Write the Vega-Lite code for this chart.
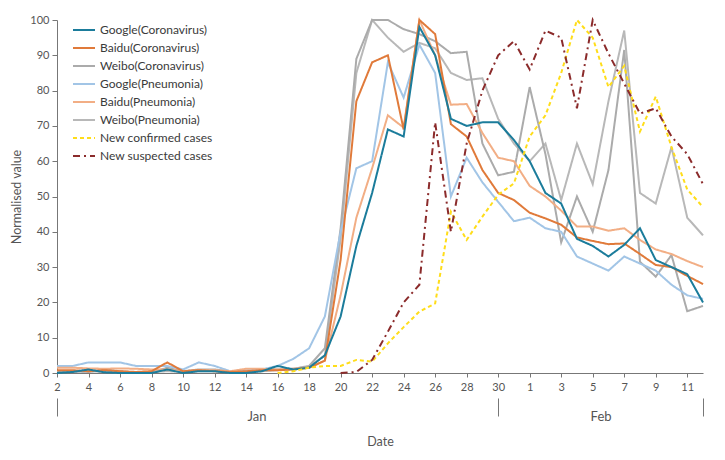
{
  "$schema": "https://vega.github.io/schema/vega-lite/v6.json",
  "width": 646,
  "height": 353,
  "autosize": {"type": "none"},
  "padding": {"left": 57, "top": 20, "right": 22, "bottom": 87},
  "background": "white",
  "config": {"font": "Lato", "view": {"stroke": null}},
  "data": {"values": [
    {"date":"2020-01-02","Google(Coronavirus)":0,"Baidu(Coronavirus)":0.8,"Weibo(Coronavirus)":0.5,"Google(Pneumonia)":2,"Baidu(Pneumonia)":1.5,"Weibo(Pneumonia)":0.3},
    {"date":"2020-01-03","Google(Coronavirus)":0.3,"Baidu(Coronavirus)":0.8,"Weibo(Coronavirus)":0.5,"Google(Pneumonia)":2,"Baidu(Pneumonia)":1.5,"Weibo(Pneumonia)":0.3},
    {"date":"2020-01-04","Google(Coronavirus)":1,"Baidu(Coronavirus)":0.5,"Weibo(Coronavirus)":0.3,"Google(Pneumonia)":3,"Baidu(Pneumonia)":1.3,"Weibo(Pneumonia)":0.5},
    {"date":"2020-01-05","Google(Coronavirus)":0.2,"Baidu(Coronavirus)":0.8,"Weibo(Coronavirus)":1,"Google(Pneumonia)":3,"Baidu(Pneumonia)":1.2,"Weibo(Pneumonia)":0.3},
    {"date":"2020-01-06","Google(Coronavirus)":0,"Baidu(Coronavirus)":0.5,"Weibo(Coronavirus)":0.5,"Google(Pneumonia)":3,"Baidu(Pneumonia)":1.3,"Weibo(Pneumonia)":0.2},
    {"date":"2020-01-07","Google(Coronavirus)":0,"Baidu(Coronavirus)":0.3,"Weibo(Coronavirus)":0.2,"Google(Pneumonia)":2,"Baidu(Pneumonia)":1.2,"Weibo(Pneumonia)":0.2},
    {"date":"2020-01-08","Google(Coronavirus)":0,"Baidu(Coronavirus)":0.5,"Weibo(Coronavirus)":0.2,"Google(Pneumonia)":2,"Baidu(Pneumonia)":1,"Weibo(Pneumonia)":0.3},
    {"date":"2020-01-09","Google(Coronavirus)":1,"Baidu(Coronavirus)":3,"Weibo(Coronavirus)":1.5,"Google(Pneumonia)":2,"Baidu(Pneumonia)":1,"Weibo(Pneumonia)":0.5},
    {"date":"2020-01-10","Google(Coronavirus)":0,"Baidu(Coronavirus)":0.5,"Weibo(Coronavirus)":0.5,"Google(Pneumonia)":1,"Baidu(Pneumonia)":0.5,"Weibo(Pneumonia)":0.3},
    {"date":"2020-01-11","Google(Coronavirus)":0.5,"Baidu(Coronavirus)":0.8,"Weibo(Coronavirus)":1,"Google(Pneumonia)":3,"Baidu(Pneumonia)":0.8,"Weibo(Pneumonia)":0.5},
    {"date":"2020-01-12","Google(Coronavirus)":0.5,"Baidu(Coronavirus)":0.5,"Weibo(Coronavirus)":1,"Google(Pneumonia)":2,"Baidu(Pneumonia)":0.8,"Weibo(Pneumonia)":0.5},
    {"date":"2020-01-13","Google(Coronavirus)":0,"Baidu(Coronavirus)":0.3,"Weibo(Coronavirus)":0.5,"Google(Pneumonia)":0.5,"Baidu(Pneumonia)":0.5,"Weibo(Pneumonia)":0.2},
    {"date":"2020-01-14","Google(Coronavirus)":0,"Baidu(Coronavirus)":0.5,"Weibo(Coronavirus)":0.5,"Google(Pneumonia)":0.8,"Baidu(Pneumonia)":1.2,"Weibo(Pneumonia)":0.3},
    {"date":"2020-01-15","Google(Coronavirus)":0.5,"Baidu(Coronavirus)":0.8,"Weibo(Coronavirus)":0.8,"Google(Pneumonia)":1,"Baidu(Pneumonia)":1.2,"Weibo(Pneumonia)":0.5},
    {"date":"2020-01-16","Google(Coronavirus)":2,"Baidu(Coronavirus)":0.8,"Weibo(Coronavirus)":1,"Google(Pneumonia)":2,"Baidu(Pneumonia)":1,"Weibo(Pneumonia)":0.8,"New confirmed cases":0},
    {"date":"2020-01-17","Google(Coronavirus)":1,"Baidu(Coronavirus)":1,"Weibo(Coronavirus)":1.2,"Google(Pneumonia)":4,"Baidu(Pneumonia)":1.2,"Weibo(Pneumonia)":1,"New confirmed cases":0.5},
    {"date":"2020-01-18","Google(Coronavirus)":1.5,"Baidu(Coronavirus)":1.5,"Weibo(Coronavirus)":2,"Google(Pneumonia)":7,"Baidu(Pneumonia)":1.5,"Weibo(Pneumonia)":1.8,"New confirmed cases":1.5},
    {"date":"2020-01-19","Google(Coronavirus)":5,"Baidu(Coronavirus)":3.5,"Weibo(Coronavirus)":7,"Google(Pneumonia)":16,"Baidu(Pneumonia)":3.5,"Weibo(Pneumonia)":5,"New confirmed cases":2},
    {"date":"2020-01-20","Google(Coronavirus)":16,"Baidu(Coronavirus)":32,"Weibo(Coronavirus)":41,"Google(Pneumonia)":40,"Baidu(Pneumonia)":22,"Weibo(Pneumonia)":38,"New confirmed cases":2,"New suspected cases":0},
    {"date":"2020-01-21","Google(Coronavirus)":36,"Baidu(Coronavirus)":77,"Weibo(Coronavirus)":89,"Google(Pneumonia)":58,"Baidu(Pneumonia)":44,"Weibo(Pneumonia)":85,"New confirmed cases":3.7,"New suspected cases":0.3},
    {"date":"2020-01-22","Google(Coronavirus)":51,"Baidu(Coronavirus)":88,"Weibo(Coronavirus)":100,"Google(Pneumonia)":60,"Baidu(Pneumonia)":58,"Weibo(Pneumonia)":100,"New confirmed cases":3.2,"New suspected cases":3.7},
    {"date":"2020-01-23","Google(Coronavirus)":69,"Baidu(Coronavirus)":90,"Weibo(Coronavirus)":100,"Google(Pneumonia)":88,"Baidu(Pneumonia)":73,"Weibo(Pneumonia)":95,"New confirmed cases":8.4,"New suspected cases":11.7},
    {"date":"2020-01-24","Google(Coronavirus)":67,"Baidu(Coronavirus)":69,"Weibo(Coronavirus)":97.4,"Google(Pneumonia)":78,"Baidu(Pneumonia)":69.5,"Weibo(Pneumonia)":91,"New confirmed cases":13,"New suspected cases":20},
    {"date":"2020-01-25","Google(Coronavirus)":98,"Baidu(Coronavirus)":100,"Weibo(Coronavirus)":96,"Google(Pneumonia)":93,"Baidu(Pneumonia)":100,"Weibo(Pneumonia)":93.5,"New confirmed cases":17.4,"New suspected cases":25},
    {"date":"2020-01-26","Google(Coronavirus)":90,"Baidu(Coronavirus)":96,"Weibo(Coronavirus)":94,"Google(Pneumonia)":85,"Baidu(Pneumonia)":90,"Weibo(Pneumonia)":92,"New confirmed cases":19.7,"New suspected cases":71},
    {"date":"2020-01-27","Google(Coronavirus)":72,"Baidu(Coronavirus)":70.5,"Weibo(Coronavirus)":90.6,"Google(Pneumonia)":50,"Baidu(Pneumonia)":76,"Weibo(Pneumonia)":85,"New confirmed cases":45.7,"New suspected cases":40},
    {"date":"2020-01-28","Google(Coronavirus)":70,"Baidu(Coronavirus)":67,"Weibo(Coronavirus)":91,"Google(Pneumonia)":61,"Baidu(Pneumonia)":76.2,"Weibo(Pneumonia)":83,"New confirmed cases":37.7,"New suspected cases":65},
    {"date":"2020-01-29","Google(Coronavirus)":71,"Baidu(Coronavirus)":57.5,"Weibo(Coronavirus)":65,"Google(Pneumonia)":54,"Baidu(Pneumonia)":68,"Weibo(Pneumonia)":83.5,"New confirmed cases":44.3,"New suspected cases":80},
    {"date":"2020-01-30","Google(Coronavirus)":71,"Baidu(Coronavirus)":51,"Weibo(Coronavirus)":56,"Google(Pneumonia)":48.5,"Baidu(Pneumonia)":61,"Weibo(Pneumonia)":72,"New confirmed cases":50.5,"New suspected cases":90},
    {"date":"2020-01-31","Google(Coronavirus)":66,"Baidu(Coronavirus)":49,"Weibo(Coronavirus)":57,"Google(Pneumonia)":43,"Baidu(Pneumonia)":60,"Weibo(Pneumonia)":65,"New confirmed cases":53.7,"New suspected cases":94},
    {"date":"2020-02-01","Google(Coronavirus)":60,"Baidu(Coronavirus)":45.4,"Weibo(Coronavirus)":81,"Google(Pneumonia)":44,"Baidu(Pneumonia)":53,"Weibo(Pneumonia)":60,"New confirmed cases":67,"New suspected cases":86},
    {"date":"2020-02-02","Google(Coronavirus)":51,"Baidu(Coronavirus)":43.8,"Weibo(Coronavirus)":62,"Google(Pneumonia)":41,"Baidu(Pneumonia)":50,"Weibo(Pneumonia)":65,"New confirmed cases":73,"New suspected cases":97},
    {"date":"2020-02-03","Google(Coronavirus)":48,"Baidu(Coronavirus)":42,"Weibo(Coronavirus)":37,"Google(Pneumonia)":40,"Baidu(Pneumonia)":46,"Weibo(Pneumonia)":49,"New confirmed cases":85,"New suspected cases":95},
    {"date":"2020-02-04","Google(Coronavirus)":38,"Baidu(Coronavirus)":38.4,"Weibo(Coronavirus)":50,"Google(Pneumonia)":33,"Baidu(Pneumonia)":41.5,"Weibo(Pneumonia)":65,"New confirmed cases":100,"New suspected cases":75},
    {"date":"2020-02-05","Google(Coronavirus)":36,"Baidu(Coronavirus)":37.4,"Weibo(Coronavirus)":40,"Google(Pneumonia)":31,"Baidu(Pneumonia)":41.5,"Weibo(Pneumonia)":53.5,"New confirmed cases":95,"New suspected cases":100},
    {"date":"2020-02-06","Google(Coronavirus)":33,"Baidu(Coronavirus)":36.5,"Weibo(Coronavirus)":57.5,"Google(Pneumonia)":29,"Baidu(Pneumonia)":40.3,"Weibo(Pneumonia)":77,"New confirmed cases":81,"New suspected cases":90.5},
    {"date":"2020-02-07","Google(Coronavirus)":36.3,"Baidu(Coronavirus)":36.7,"Weibo(Coronavirus)":91.5,"Google(Pneumonia)":33,"Baidu(Pneumonia)":41,"Weibo(Pneumonia)":97,"New confirmed cases":87,"New suspected cases":82},
    {"date":"2020-02-08","Google(Coronavirus)":41,"Baidu(Coronavirus)":33.7,"Weibo(Coronavirus)":31.5,"Google(Pneumonia)":31,"Baidu(Pneumonia)":37.7,"Weibo(Pneumonia)":51,"New confirmed cases":68.4,"New suspected cases":73.5},
    {"date":"2020-02-09","Google(Coronavirus)":32,"Baidu(Coronavirus)":30.6,"Weibo(Coronavirus)":27.3,"Google(Pneumonia)":29,"Baidu(Pneumonia)":35,"Weibo(Pneumonia)":48,"New confirmed cases":78.3,"New suspected cases":75},
    {"date":"2020-02-10","Google(Coronavirus)":30,"Baidu(Coronavirus)":30,"Weibo(Coronavirus)":33.4,"Google(Pneumonia)":25,"Baidu(Pneumonia)":33.7,"Weibo(Pneumonia)":64,"New confirmed cases":64,"New suspected cases":67},
    {"date":"2020-02-11","Google(Coronavirus)":28,"Baidu(Coronavirus)":27.5,"Weibo(Coronavirus)":17.5,"Google(Pneumonia)":22,"Baidu(Pneumonia)":31.7,"Weibo(Pneumonia)":44,"New confirmed cases":52,"New suspected cases":62},
    {"date":"2020-02-12","Google(Coronavirus)":20,"Baidu(Coronavirus)":25.2,"Weibo(Coronavirus)":19,"Google(Pneumonia)":21,"Baidu(Pneumonia)":30,"Weibo(Pneumonia)":39,"New confirmed cases":47,"New suspected cases":53.5}
  ]},
  "resolve": {"axis": {"x": "independent"}},
  "layer": [
    {
      "transform": [{"fold": ["Weibo(Pneumonia)","Weibo(Coronavirus)","Google(Pneumonia)","Baidu(Pneumonia)","Baidu(Coronavirus)","Google(Coronavirus)","New confirmed cases","New suspected cases"], "as": ["series","value"]}],
      "mark": {"type": "line", "strokeWidth": 2},
      "encoding": {
        "x": {"field": "date", "type": "temporal",
          "scale": {"type": "utc", "nice": false, "domain": [{"year":2020,"month":1,"date":2,"utc":true},{"year":2020,"month":2,"date":12,"utc":true}]},
          "axis": {"title": null, "grid": false, "orient": "bottom",
            "values": [
              {"year":2020,"month":1,"date":2,"utc":true},{"year":2020,"month":1,"date":4,"utc":true},{"year":2020,"month":1,"date":6,"utc":true},{"year":2020,"month":1,"date":8,"utc":true},{"year":2020,"month":1,"date":10,"utc":true},{"year":2020,"month":1,"date":12,"utc":true},{"year":2020,"month":1,"date":14,"utc":true},{"year":2020,"month":1,"date":16,"utc":true},{"year":2020,"month":1,"date":18,"utc":true},{"year":2020,"month":1,"date":20,"utc":true},{"year":2020,"month":1,"date":22,"utc":true},{"year":2020,"month":1,"date":24,"utc":true},{"year":2020,"month":1,"date":26,"utc":true},{"year":2020,"month":1,"date":28,"utc":true},{"year":2020,"month":1,"date":30,"utc":true},
              {"year":2020,"month":2,"date":1,"utc":true},{"year":2020,"month":2,"date":3,"utc":true},{"year":2020,"month":2,"date":5,"utc":true},{"year":2020,"month":2,"date":7,"utc":true},{"year":2020,"month":2,"date":9,"utc":true},{"year":2020,"month":2,"date":11,"utc":true}
            ],
            "labelExpr": "utcFormat(datum.value, '%-d')",
            "labelOverlap": false, "labelFlush": false,
            "domainColor": "#777", "tickColor": "#777", "tickSize": 4,
            "labelFontSize": 11, "labelColor": "#555", "labelPadding": 4}},
        "y": {"field": "value", "type": "quantitative",
          "scale": {"domain": [0, 100], "nice": false},
          "axis": {"title": "Normalised value", "grid": false,
            "values": [0,10,20,30,40,50,60,70,80,90,100],
            "domainColor": "#777", "tickColor": "#777", "tickSize": 5,
            "labelFontSize": 11, "labelColor": "#555", "labelPadding": 3,
            "titleFontSize": 12.5, "titleFontWeight": "normal", "titleColor": "#555", "titlePadding": 6}},
        "color": {"field": "series", "type": "nominal",
          "scale": {
            "domain": ["Google(Coronavirus)","Baidu(Coronavirus)","Weibo(Coronavirus)","Google(Pneumonia)","Baidu(Pneumonia)","Weibo(Pneumonia)","New confirmed cases","New suspected cases"],
            "range": ["#1B7C9B","#E07A3A","#ABABAB","#A2C5E6","#F2AE85","#B8B8B8","#FFDD1A","#8B2B2B"]},
          "legend": {"title": null, "orient": "none", "legendX": 15, "legendY": -2, "padding": 0,
            "symbolType": "stroke", "symbolSize": 484, "symbolStrokeWidth": 2,
            "labelFontSize": 12, "labelColor": "#3a3a3a", "rowPadding": -0.3, "labelOffset": 4}},
        "strokeDash": {"field": "series", "type": "nominal",
          "scale": {
            "domain": ["Google(Coronavirus)","Baidu(Coronavirus)","Weibo(Coronavirus)","Google(Pneumonia)","Baidu(Pneumonia)","Weibo(Pneumonia)","New confirmed cases","New suspected cases"],
            "range": [[1,0],[1,0],[1,0],[1,0],[1,0],[1,0],[4,3],[7,4,2,4]]},
          "legend": {"title": null, "orient": "none", "legendX": 15, "legendY": -2, "padding": 0,
            "symbolType": "stroke", "symbolSize": 484, "symbolStrokeWidth": 2,
            "labelFontSize": 12, "labelColor": "#3a3a3a", "rowPadding": -0.3, "labelOffset": 4}}
      }
    },
    {
      "data": {"values": [{"date": "2020-01-02"}]},
      "mark": {"type": "point", "opacity": 0},
      "encoding": {
        "x": {"field": "date", "type": "temporal",
          "axis": {"orient": "bottom", "offset": 25, "title": null, "grid": false, "domain": false, "labels": false,
            "tickSize": 18, "tickColor": "#777",
            "values": [{"year":2020,"month":1,"date":2,"utc":true},{"year":2020,"month":1,"date":30,"utc":true},{"year":2020,"month":2,"date":12,"utc":true}]}}
      }
    },
    {
      "data": {"values": [{"date": "2020-01-02"}]},
      "mark": {"type": "point", "opacity": 0},
      "encoding": {
        "x": {"field": "date", "type": "temporal",
          "axis": {"orient": "bottom", "offset": 35, "title": "Date", "grid": false, "domain": false, "ticks": false, "tickSize": 0,
            "values": [{"year":2020,"month":1,"date":14,"hours":16,"utc":true},{"year":2020,"month":2,"date":5,"hours":12,"utc":true}],
            "labelExpr": "utcFormat(datum.value, '%b')",
            "labelFontSize": 13, "labelColor": "#555", "labelPadding": 2,
            "titleFontSize": 12.5, "titleFontWeight": "normal", "titleColor": "#555", "titlePadding": 12}}
      }
    }
  ]
}
